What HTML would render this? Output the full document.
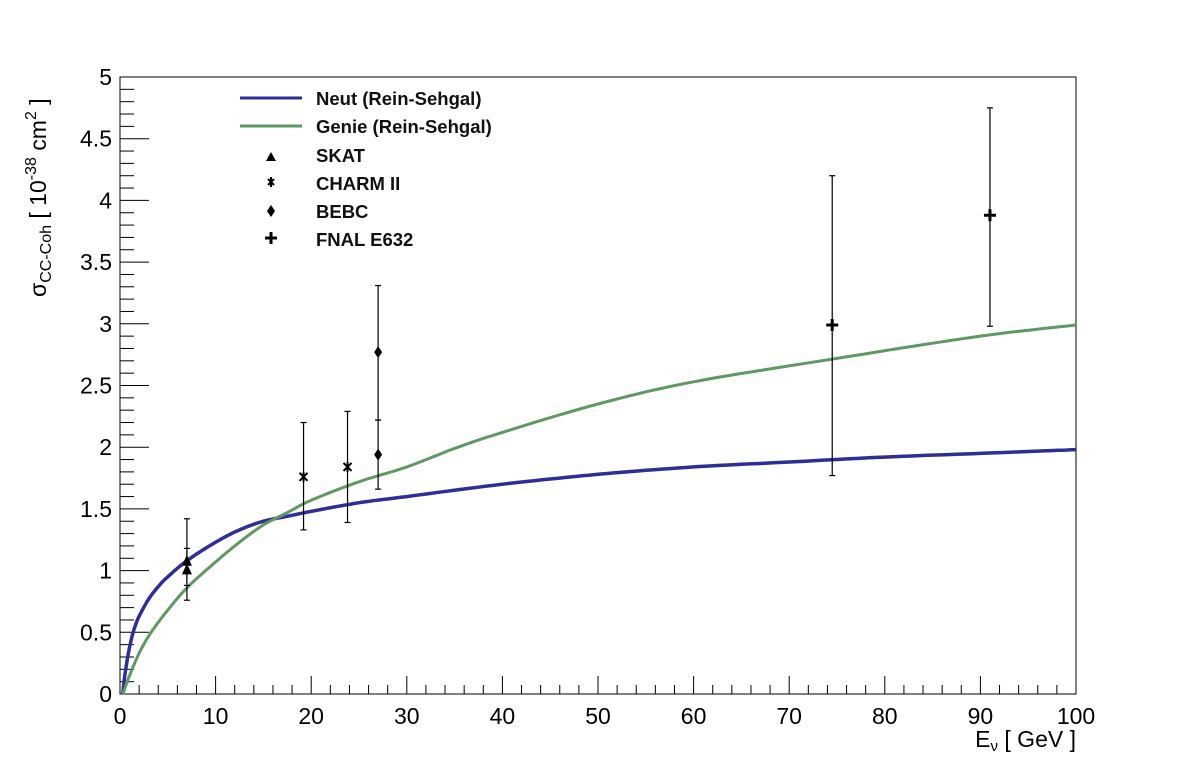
<!DOCTYPE html>
<html><head><meta charset="utf-8"><style>
html,body{margin:0;padding:0;background:#fff;}
svg{display:block;font-family:"Liberation Sans",Arial,sans-serif;}
</style></head><body>
<svg id="s" width="1196" height="772" viewBox="0 0 1196 772" xmlns="http://www.w3.org/2000/svg">
<rect width="1196" height="772" fill="#fff"/>
<g id="ax" stroke="#000" stroke-width="1" fill="none"></g>
<g id="lab" font-size="23" fill="#000"></g>
<polyline id="neut" fill="none" stroke="#2e2e96" stroke-width="3.5" stroke-linejoin="round"/>
<polyline id="genie" fill="none" stroke="#5f9860" stroke-width="3" stroke-linejoin="round"/>
<g id="pts" stroke="#000" stroke-width="1.2"></g>
<!-- legend -->
<line x1="240" y1="98" x2="302" y2="98" stroke="#2e2e96" stroke-width="3"/>
<line x1="240" y1="126" x2="302" y2="126" stroke="#5f9860" stroke-width="3"/>
<g font-size="18.5" font-weight="bold" fill="#111">
<text x="316" y="105">Neut (Rein-Sehgal)</text>
<text x="316" y="133">Genie (Rein-Sehgal)</text>
<text x="316" y="162">SKAT</text>
<text x="316" y="190">CHARM II</text>
<text x="316" y="218">BEBC</text>
<text x="316" y="246">FNAL E632</text>
</g>
<polygon points="266,161 276,161 271,152" fill="#000"/>
<path d="M268,179l6,6M274,179l-6,6M271,177v10" stroke="#000" stroke-width="2"/>
<polygon points="271,205 275,211 271,217 267,211" fill="#000"/>
<path d="M271,232v12M265,238h12" stroke="#000" stroke-width="3"/>
<!-- axis titles -->
<text x="1076" y="747" font-size="23" text-anchor="end" fill="#000">E<tspan font-size="15" dy="4">ν</tspan><tspan dy="-4">  [ GeV ]</tspan></text>
<text transform="translate(46,297) rotate(-90)" font-size="23" fill="#000">σ<tspan font-size="16" dy="5">CC-Coh</tspan><tspan dy="-5">  [ 10</tspan><tspan font-size="16" dy="-10">-38</tspan><tspan dy="10"> cm</tspan><tspan font-size="16" dy="-10">2</tspan><tspan dy="10"> ]</tspan></text>
</svg>
<script>
var X=function(e){return 120+9.56*e},Y=function(s){return 694-123.4*s};
var ns="http://www.w3.org/2000/svg";
function el(p,t,a){var e=document.createElementNS(ns,t);for(var k in a)e.setAttribute(k,a[k]);p.appendChild(e);return e;}
var ax=document.getElementById('ax'),lab=document.getElementById('lab');
el(ax,'rect',{x:120,y:77,width:956,height:617});
for(var i=0;i<=50;i++){var x=X(i*2);el(ax,'line',{x1:x,y1:694,x2:x,y2:694-(i%5==0?18:9)});}
for(var i=0;i<=10;i++){var t=el(lab,'text',{x:X(i*10),y:724,'text-anchor':'middle'});t.textContent=i*10;}
for(var i=0;i<=50;i++){var y=Y(i*0.1);el(ax,'line',{x1:120,y1:y,x2:120+(i%5==0?29:14),y2:y});}
for(var i=0;i<=10;i++){var t=el(lab,'text',{x:112,y:Y(i*0.5)+8,'text-anchor':'end'});t.textContent=String(i*0.5);}
function smooth(pts){var r=[];for(var i=0;i<pts.length-1;i++){var p0=pts[Math.max(0,i-1)],p1=pts[i],p2=pts[i+1],p3=pts[Math.min(pts.length-1,i+2)];
 for(var j=0;j<12;j++){var t=j/12,t2=t*t,t3=t2*t;
 var f=function(k){return 0.5*((2*p1[k])+(-p0[k]+p2[k])*t+(2*p0[k]-5*p1[k]+4*p2[k]-p3[k])*t2+(-p0[k]+3*p1[k]-3*p2[k]+p3[k])*t3)};
 r.push(X(f(0)).toFixed(1)+','+Y(f(1)).toFixed(1));}}
 var l=pts[pts.length-1];r.push(X(l[0])+','+Y(l[1]));return r.join(' ');}
document.getElementById('neut').setAttribute('points',smooth([[0.3,0],[0.5,0.15],[1,0.38],[1.5,0.53],[2,0.63],[3,0.77],[4,0.87],[5,0.95],[7,1.08],[10,1.23],[12.5,1.33],[15,1.4],[17.5,1.44],[20,1.48],[25,1.55],[30,1.6],[40,1.7],[50,1.78],[60,1.84],[70,1.88],[80,1.92],[90,1.95],[100,1.98]]));
document.getElementById('genie').setAttribute('points',smooth([[0.3,0],[1,0.15],[2,0.33],[3,0.47],[4,0.58],[5,0.68],[7,0.86],[10,1.07],[12.5,1.23],[15,1.37],[17.5,1.47],[20,1.57],[25,1.72],[30,1.84],[35,1.99],[40,2.12],[50,2.35],[60,2.53],[75,2.72],[90,2.9],[100,2.99]]));
var P=document.getElementById('pts');
function err(e,s,lo,hi){var x=X(e);el(P,'line',{x1:x,y1:Y(lo),x2:x,y2:Y(hi)});el(P,'line',{x1:x-3,y1:Y(lo),x2:x+3,y2:Y(lo)});el(P,'line',{x1:x-3,y1:Y(hi),x2:x+3,y2:Y(hi)});}
err(7,1.08,0.88,1.42);err(7,1.01,0.76,1.18);
[[7,1.08],[7,1.01]].forEach(function(p){var x=X(p[0]),y=Y(p[1]);el(P,'polygon',{points:(x-5)+','+(y+5)+' '+(x+5)+','+(y+5)+' '+x+','+(y-6),fill:'#000',stroke:'none'});});
err(19.2,1.76,1.33,2.2);err(23.8,1.84,1.39,2.29);
[[19.2,1.76],[23.8,1.84]].forEach(function(p){var x=X(p[0]),y=Y(p[1]);el(P,'path',{d:'M'+(x-4)+','+(y-4)+'l8,8M'+(x+4)+','+(y-4)+'l-8,8M'+x+','+(y-5)+'v10',stroke:'#000','stroke-width':2});});
err(27,2.77,2.22,3.31);err(27,1.94,1.66,2.22);
[[27,2.77],[27,1.94]].forEach(function(p){var x=X(p[0]),y=Y(p[1]);el(P,'polygon',{points:x+','+(y-6)+' '+(x+4)+','+y+' '+x+','+(y+6)+' '+(x-4)+','+y,fill:'#000',stroke:'none'});});
err(74.5,2.99,1.77,4.2);err(91,3.88,2.98,4.75);
[[74.5,2.99],[91,3.88]].forEach(function(p){var x=X(p[0]),y=Y(p[1]);el(P,'path',{d:'M'+x+','+(y-6)+'v12M'+(x-6)+','+y+'h12',stroke:'#000','stroke-width':3});});
</script>
</body></html>
